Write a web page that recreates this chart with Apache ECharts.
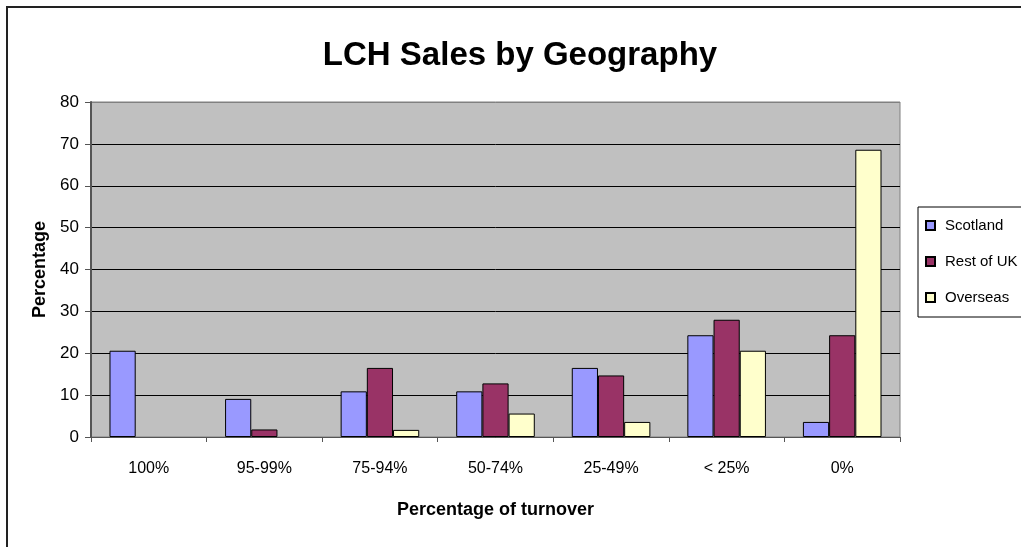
<!DOCTYPE html>
<html>
<head>
<meta charset="utf-8">
<title>LCH Sales by Geography</title>
<script src="https://cdn.jsdelivr.net/npm/echarts@6/dist/echarts.min.js"></script>
<style>
  html, body { margin: 0; padding: 0; background: #ffffff; }
  #chart { width: 1021px; height: 547px; }
</style>
</head>
<body>
<div id="chart"></div>
<script>
// Turnover bands and share of sales (%) by region
const categories = ['100%', '95-99%', '75-94%', '50-74%', '25-49%', '< 25%', '0%'];
const scotland = [20.6, 9.1, 10.9, 10.9, 16.5, 24.3, 3.6];
const restOfUK = [null, 1.8, 16.5, 12.8, 14.7, 28.0, 24.3];
const overseas = [null, null, 1.7, 5.6, 3.6, 20.6, 68.6];
const seriesNames = ['Scotland', 'Rest of UK', 'Overseas'];
const yTicks = [0, 10, 20, 30, 40, 50, 60, 70, 80];

const FONT = '"Liberation Sans", Arial, sans-serif';
const chart = echarts.init(document.getElementById('chart'), null, { renderer: 'canvas' });

function barSeries(name, data, color) {
  return {
    name: name,
    type: 'bar',
    data: data,
    barGap: '0%',
    barCategoryGap: '32%',
    itemStyle: { color: color, borderColor: '#000000', borderWidth: 1 },
    emphasis: { disabled: true }
  };
}

chart.setOption({
  animation: false,
  backgroundColor: '#ffffff',
  graphic: [{
    type: 'rect',
    shape: { x: 7, y: 7, width: 1100, height: 600 },
    style: { fill: 'none', stroke: '#222222', lineWidth: 2 },
    silent: true,
    z: -1
  }],
  title: {
    text: 'LCH Sales by Geography',
    left: 515,
    textAlign: 'center',
    top: 34,
    textStyle: { fontFamily: FONT, fontWeight: 'bold', fontSize: 33, color: '#000' }
  },
  legend: {
    orient: 'vertical',
    left: 918,
    top: 207,
    padding: [11, 40, 12, 7],
    itemGap: 21,
    itemWidth: 9,
    itemHeight: 9,
    icon: 'rect',
    backgroundColor: '#ffffff',
    borderColor: '#000000',
    borderWidth: 1,
    textStyle: { fontFamily: FONT, fontSize: 15, color: '#000', padding: [0, 0, 0, 5] },
    data: seriesNames
  },
  grid: {
    left: 91,
    top: 102,
    width: 809,
    height: 335,
    show: true,
    backgroundColor: '#C0C0C0',
    borderColor: '#808080',
    borderWidth: 1
  },
  xAxis: {
    type: 'category',
    data: categories,
    name: 'Percentage of turnover',
    nameLocation: 'middle',
    nameGap: 64,
    nameTextStyle: { fontFamily: FONT, fontWeight: 'bold', fontSize: 18, color: '#000' },
    axisLine: { show: true, lineStyle: { color: '#555555', width: 1 } },
    axisTick: { show: true, length: 5, lineStyle: { color: '#555555' } },
    axisLabel: { fontFamily: FONT, fontSize: 16, color: '#000', margin: 24 }
  },
  yAxis: {
    type: 'value',
    min: 0,
    max: 80,
    interval: 10,
    name: 'Percentage',
    nameLocation: 'middle',
    nameGap: 41,
    nameTextStyle: { fontFamily: FONT, fontWeight: 'bold', fontSize: 18, color: '#000' },
    axisLine: { show: true, lineStyle: { color: '#555555', width: 2 } },
    axisTick: { show: true, inside: false, length: 6, lineStyle: { color: '#555555' } },
    axisLabel: {
      fontFamily: FONT, fontSize: 17, color: '#000', margin: 12,
      formatter: function (v) { return yTicks.indexOf(v) >= 0 ? String(v) : ''; }
    },
    splitLine: {
      show: true,
      lineStyle: { color: ['#000', '#000', '#000', '#000', '#000', '#000', '#000', '#000', '#808080'], width: 1 }
    }
  },
  series: [
    barSeries(seriesNames[0], scotland, '#9999FF'),
    barSeries(seriesNames[1], restOfUK, '#993366'),
    barSeries(seriesNames[2], overseas, '#FFFFCC')
  ]
});
</script>
</body>
</html>
